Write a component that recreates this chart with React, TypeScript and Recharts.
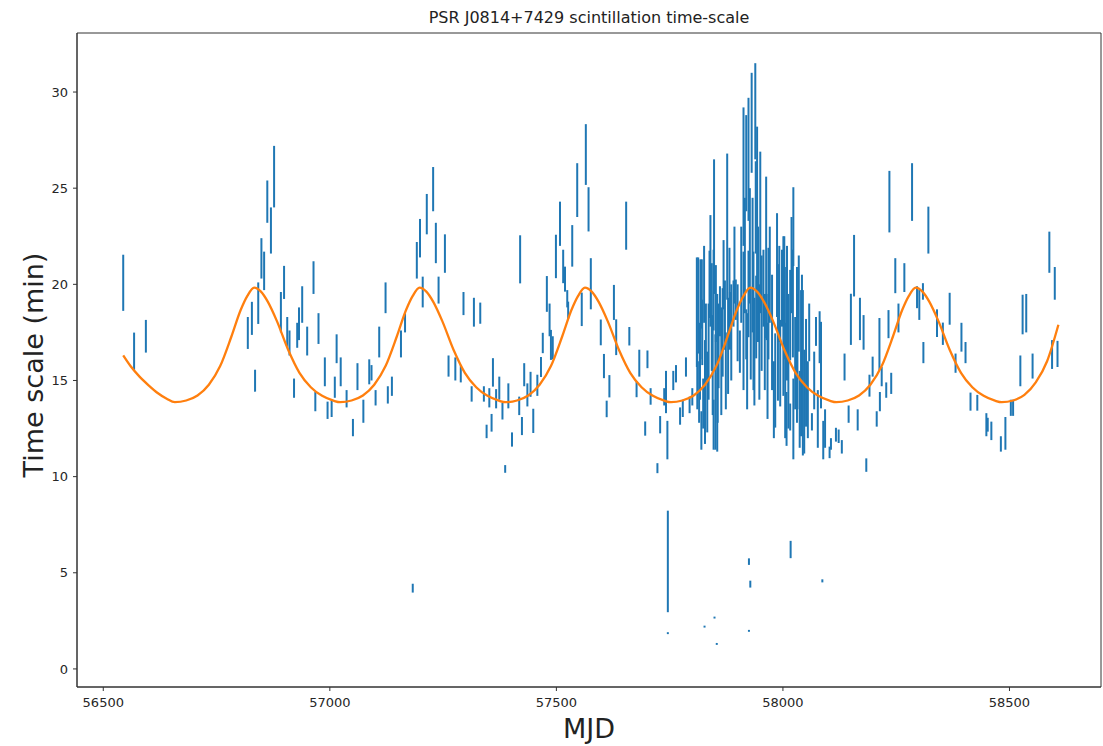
import React from 'react';
import { ComposedChart, Scatter, Line, XAxis, YAxis, ErrorBar, ReferenceArea } from 'recharts';

// [MJD, time scale (min), error (min)]
const obs2013: [number, number, number][] = [
  [56544, 20.08, 1.46], [56568, 16.52, 0.97], [56594, 17.3, 0.85],
  [56819, 17.47, 0.83], [56828, 18.23, 0.86], [56835, 14.99, 0.57], [56842, 19.02, 1.08],
  [56849, 21.35, 1.05], [56855, 20.7, 1.0], [56862, 24.3, 1.1], [56870, 22.8, 1.2],
  [56877, 25.6, 1.6], [56892, 18.55, 1.05], [56899, 20.1, 0.86], [56906, 17.53, 0.77],
  [56911, 16.95, 0.65], [56921, 14.6, 0.5], [56928, 17.35, 0.65], [56932, 17.95, 0.85],
  [56939, 18.95, 0.95], [56950, 17.05, 0.75],
];
const obs2014: [number, number, number][] = [
  [56964, 20.35, 0.85], [56968, 13.9, 0.5], [56975, 17.7, 0.8], [56989, 15.45, 0.75],
  [56995, 13.45, 0.45], [57004, 13.55, 0.45], [57011, 14.65, 0.55], [57015, 16.65, 0.75],
  [57024, 15.45, 0.75], [57037, 14.05, 0.45], [57051, 12.55, 0.45], [57061, 15.2, 0.7],
  [57074, 13.4, 0.6], [57087, 15.45, 0.65], [57092, 15.4, 0.4], [57101, 14.1, 0.4],
  [57109, 17.0, 0.8], [57123, 19.3, 0.8], [57128, 14.25, 0.45], [57137, 14.7, 0.5],
  [57157, 16.9, 0.7], [57166, 18.0, 0.5], [57183, 4.2, 0.23], [57192, 21.25, 0.95],
  [57199, 22.4, 1.0], [57205, 19.6, 0.8], [57214, 23.65, 1.05], [57228, 24.95, 1.15],
  [57234, 22.15, 1.05], [57240, 19.7, 0.7], [57254, 21.6, 1.0], [57262, 15.75, 0.55],
  [57277, 15.6, 0.6], [57289, 15.35, 0.45], [57295, 19.0, 0.6], [57313, 14.3, 0.4],
  [57318, 18.55, 0.75], [57332, 18.5, 0.55],
];
const obs2015: [number, number, number][] = [
  [57340, 14.3, 0.4], [57346, 12.35, 0.35], [57352, 14.1, 0.5], [57357, 12.8, 0.46],
  [57360, 15.42, 0.74], [57367, 14.05, 0.5], [57374, 14.6, 0.6], [57381, 13.4, 0.43],
  [57387, 10.4, 0.2], [57394, 14.2, 0.65], [57402, 11.93, 0.37], [57418, 13.68, 0.48],
  [57420, 21.3, 1.25], [57424, 12.63, 0.47], [57429, 15.3, 0.6], [57436, 14.25, 0.6],
  [57443, 14.8, 0.65], [57449, 12.9, 0.63], [57458, 14.75, 0.55], [57466, 15.7, 0.52],
  [57470, 16.95, 0.53], [57479, 19.5, 0.93], [57485, 18.15, 0.85], [57488, 16.85, 0.78],
  [57492, 16.7, 0.6], [57499, 21.45, 1.13], [57508, 23.15, 1.15], [57515, 20.93, 0.87],
  [57519, 20.27, 0.65], [57524, 19.25, 0.45], [57526, 18.65, 0.45], [57535, 22.0, 1.08],
  [57546, 24.9, 1.4], [57556, 18.7, 0.87], [57565, 26.75, 1.58], [57571, 23.9, 1.15],
  [57576, 20.03, 1.33], [57598, 17.5, 0.67], [57605, 15.75, 0.63], [57611, 13.52, 0.43],
  [57617, 14.7, 0.58], [57627, 19.06, 0.91], [57632, 17.25, 0.93], [57654, 23.05, 1.25],
  [57661, 17.3, 0.48], [57677, 14.54, 0.41], [57683, 15.9, 0.7], [57696, 12.5, 0.37],
  [57701, 16.1, 0.46],
];
const obs2016: [number, number, number][] = [
  [57708, 14.17, 0.43], [57723, 10.44, 0.26], [57729, 12.7, 0.45], [57738, 14.15, 0.45],
  [57742, 14.4, 1.1], [57745, 11.9, 1.0], [57746, 5.59, 2.64], [57746, 1.86, 0.05],
  [57758, 15.0, 0.5], [57764, 15.35, 0.45], [57773, 13.15, 0.45], [57779, 13.55, 0.45],
  [57786, 15.7, 0.5], [57794, 13.73, 0.43], [57800, 14.15, 0.45], [57810, 18.55, 2.85],
  [57811, 15.0, 1.5], [57813, 18.9, 2.5], [57815, 14.4, 1.6], [57817, 16.0, 2.0],
  [57818, 18.7, 2.6], [57820, 12.4, 1.0], [57821, 19.5, 1.8], [57822, 17.5, 1.7],
  [57824, 13.8, 1.3], [57826, 20.0, 2.0], [57827, 2.2, 0.05], [57828, 14.4, 2.7],
  [57830, 17.0, 2.0], [57833, 14.4, 2.1], [57836, 16.5, 2.5], [57838, 20.0, 1.75],
  [57840, 20.7, 2.9], [57843, 18.3, 2.8], [57845, 15.8, 2.6], [57847, 19.7, 2.1],
  [57847, 12.7, 1.3], [57848, 23.0, 3.5], [57849, 2.67, 0.05], [57851, 14.4, 3.0],
  [57852, 19.0, 2.0], [57854, 1.3, 0.05], [57855, 15.4, 4.1], [57856, 14.1, 1.3],
  [57858, 16.8, 2.2], [57861, 18.6, 1.3], [57864, 16.0, 2.8], [57867, 17.5, 2.3],
  [57869, 20.5, 1.8], [57872, 18.4, 1.8], [57874, 15.5, 2.0], [57877, 23.0, 3.8],
  [57879, 16.8, 2.5], [57882, 19.7, 2.2], [57883, 18.1, 1.5], [57886, 17.5, 2.5],
  [57891, 19.0, 1.2], [57893, 21.0, 2.0], [57896, 19.2, 1.05], [57900, 18.0, 2.0],
  [57905, 16.5, 1.1], [57908, 20.5, 2.5],
];
const obs2017: [number, number, number][] = [
  [57913, 25.6, 3.6], [57913, 18.1, 3.6], [57916, 21.5, 3.0], [57919, 26.3, 2.5],
  [57919, 17.4, 1.3], [57921, 16.0, 2.5], [57924, 26.5, 3.2], [57924, 19.5, 2.25],
  [57925, 5.58, 0.17], [57925, 1.98, 0.05], [57927, 22.0, 3.0], [57928, 4.41, 0.18],
  [57929, 17.4, 2.35], [57931, 28.4, 2.6], [57933, 21.0, 3.5], [57935, 18.1, 3.6],
  [57937, 16.5, 2.8], [57939, 29.0, 2.5], [57940, 24.0, 2.4], [57941, 18.3, 2.15],
  [57943, 23.9, 4.3], [57945, 20.0, 3.0], [57948, 17.0, 3.0], [57950, 22.7, 4.2],
  [57953, 18.5, 3.0], [57957, 19.8, 2.0], [57960, 17.0, 2.5], [57963, 21.4, 4.2],
  [57964, 18.3, 1.2], [57966, 15.5, 2.5], [57968, 19.0, 2.9], [57971, 20.5, 2.5],
  [57976, 17.5, 3.0], [57980, 14.0, 2.0], [57983, 15.0, 2.45], [57987, 21.0, 2.7],
  [57989, 17.5, 3.55], [57992, 19.5, 2.5], [57994, 15.9, 2.25], [57998, 19.8, 2.0],
  [58001, 18.35, 4.15], [58003, 19.3, 3.2], [58005, 15.0, 3.0], [58007, 18.0, 2.9],
  [58008, 13.0, 1.4], [58009, 18.5, 3.5], [58012, 16.0, 3.5], [58016, 18.4, 2.35],
  [58016, 13.1, 0.7], [58017, 6.21, 0.45], [58019, 21.0, 2.5], [58022, 19.0, 2.8],
  [58023, 13.0, 2.1], [58023, 23.0, 2.05], [58027, 15.9, 2.4], [58031, 16.85, 4.05],
  [58032, 16.5, 3.0], [58035, 19.0, 2.5], [58037, 13.5, 2.0], [58040, 15.9, 3.8],
  [58042, 18.5, 2.0], [58044, 15.4, 4.3], [58047, 13.9, 2.7], [58051, 15.4, 2.8],
  [58055, 14.0, 2.0], [58058, 17.5, 1.5], [58064, 12.85, 0.45], [58069, 15.0, 1.5],
  [58073, 17.55, 0.75], [58077, 13.0, 1.5], [58081, 17.25, 1.35], [58084, 15.8, 2.25],
  [58087, 4.58, 0.08], [58089, 11.9, 1.0], [58093, 12.5, 1.0],
];
const obs2018: [number, number, number][] = [
  [58103, 11.26, 0.3], [58106, 11.7, 0.3], [58117, 12.18, 0.36], [58123, 12.1, 0.35],
  [58130, 11.55, 0.35], [58136, 15.7, 0.7], [58145, 13.25, 0.45], [58150, 18.18, 1.33],
  [58157, 20.97, 1.6], [58165, 12.95, 0.55], [58170, 18.2, 1.1], [58178, 17.5, 0.9],
  [58184, 10.6, 0.35], [58191, 14.73, 0.57], [58198, 15.72, 0.52], [58207, 13.0, 0.4],
  [58213, 16.9, 1.35], [58214, 13.9, 0.5], [58218, 15.2, 0.5], [58228, 14.5, 0.4],
  [58233, 17.93, 0.73], [58235, 24.3, 1.6], [58239, 14.85, 0.55], [58248, 20.45, 0.91],
  [58255, 18.25, 0.75], [58268, 20.35, 0.75], [58285, 24.8, 1.5], [58296, 19.33, 0.57],
  [58301, 18.93, 0.78], [58309, 19.63, 0.43], [58310, 16.45, 0.55], [58321, 22.82, 1.22],
  [58340, 17.98, 0.72], [58353, 17.43, 0.58], [58368, 18.73, 0.83], [58381, 15.9, 0.5],
  [58394, 17.25, 0.75], [58403, 16.45, 0.55], [58414, 13.9, 0.47], [58429, 13.84, 0.41],
  [58449, 12.7, 0.6], [58452, 12.7, 0.36], [58460, 12.38, 0.48],
];
const obs2019: [number, number, number][] = [
  [58481, 11.7, 0.4], [58491, 12.25, 0.85], [58503, 13.58, 0.42], [58508, 13.58, 0.42],
  [58524, 15.5, 0.8], [58529, 18.43, 1.03], [58537, 18.5, 1.0], [58551, 15.75, 0.65],
  [58588, 21.67, 1.07], [58594, 16.35, 0.75], [58600, 20.05, 0.85], [58606, 16.38, 0.68],
];

// fitted annual model: [MJD, time scale]
const fitCurve: [number, number][] = [
  [56544, 16.3], [56560, 15.75], [56580, 15.2], [56600, 14.75], [56620, 14.35], [56640, 14.05],
  [56658, 13.87], [56683, 13.96], [56708, 14.22], [56733, 14.78], [56758, 15.75], [56783, 17.3],
  [56803, 18.65], [56818, 19.4], [56833, 19.83], [56848, 19.62], [56863, 19.1], [56883, 18.1],
  [56908, 16.6], [56933, 15.4], [56958, 14.65], [56983, 14.2], [57008, 13.95], [57023, 13.87],
  [57048, 13.96], [57073, 14.22], [57098, 14.78], [57123, 15.75], [57148, 17.3], [57168, 18.65],
  [57183, 19.4], [57198, 19.83], [57213, 19.62], [57228, 19.1], [57248, 18.1], [57273, 16.6],
  [57298, 15.4], [57323, 14.65], [57348, 14.2], [57373, 13.95], [57388, 13.87], [57413, 13.96],
  [57438, 14.22], [57463, 14.78], [57488, 15.75], [57513, 17.3], [57533, 18.65], [57548, 19.4],
  [57563, 19.83], [57578, 19.62], [57593, 19.1], [57613, 18.1], [57638, 16.6], [57663, 15.4],
  [57688, 14.65], [57713, 14.2], [57738, 13.95], [57753, 13.87], [57778, 13.96], [57803, 14.22],
  [57828, 14.78], [57853, 15.75], [57878, 17.3], [57898, 18.65], [57913, 19.4], [57928, 19.83],
  [57943, 19.62], [57958, 19.1], [57978, 18.1], [58003, 16.6], [58028, 15.4], [58053, 14.65],
  [58078, 14.2], [58103, 13.95], [58118, 13.87], [58143, 13.96], [58168, 14.22], [58193, 14.78],
  [58218, 15.75], [58243, 17.3], [58263, 18.65], [58278, 19.4], [58293, 19.83], [58308, 19.62],
  [58323, 19.1], [58343, 18.1], [58368, 16.6], [58393, 15.4], [58418, 14.65], [58443, 14.2],
  [58468, 13.95], [58483, 13.87], [58508, 13.96], [58533, 14.25], [58558, 14.9], [58583, 16.0],
  [58608, 17.9],
];

const xTicks = [56500, 57000, 57500, 58000, 58500];
const yTicks = [0, 5, 10, 15, 20, 25, 30];
const X_DOMAIN: [number, number] = [56442, 58702];
const Y_DOMAIN: [number, number] = [-0.94, 33.07];

const observations = [...obs2013, ...obs2014, ...obs2015, ...obs2016, ...obs2017, ...obs2018, ...obs2019]
  .map(([x, y, e]) => ({ x, y, e }));
const fit = fitCurve.map(([x, y]) => ({ x, y }));

const NoPoint = () => <g />;

const FONT = '"DejaVu Sans", sans-serif';

export default function App() {
  return (
    <div style={{ position: 'absolute', left: 0, top: 0, width: 1103, height: 746, background: '#fff', fontFamily: FONT }}>
      <ComposedChart width={1103} height={746} margin={{ top: 33, right: 2, bottom: 0, left: 0 }}>
        <XAxis
          type="number"
          dataKey="x"
          domain={X_DOMAIN}
          ticks={xTicks}
          allowDataOverflow
          height={59}
          tickSize={4}
          tickMargin={7}
          tick={{ fontSize: 13, fill: '#262626', fontFamily: FONT }}
          stroke="#333"
        />
        <YAxis
          type="number"
          dataKey="y"
          domain={Y_DOMAIN}
          ticks={yTicks}
          allowDataOverflow
          width={77}
          tickSize={4}
          tickMargin={5}
          tick={{ fontSize: 13, fill: '#262626', fontFamily: FONT }}
          stroke="#333"
        />
        <ReferenceArea
          x1={X_DOMAIN[0]}
          x2={X_DOMAIN[1]}
          y1={Y_DOMAIN[0]}
          y2={Y_DOMAIN[1]}
          fill="none"
          fillOpacity={0}
          stroke="#333"
          strokeWidth={1}
          ifOverflow="visible"
        />
        <Scatter data={observations} dataKey="y" shape={NoPoint} isAnimationActive={false}>
          <ErrorBar dataKey="e" direction="y" width={0} stroke="#1f77b4" strokeWidth={2} isAnimationActive={false} />
        </Scatter>
        <Line
          data={fit}
          dataKey="y"
          type="monotone"
          dot={false}
          activeDot={false}
          stroke="#ff7f0e"
          strokeWidth={2.3}
          isAnimationActive={false}
        />
      </ComposedChart>
      <div style={{ position: 'absolute', left: 77, width: 1024, top: 9, textAlign: 'center', fontSize: 16, lineHeight: '18px', color: '#222' }}>
        PSR J0814+7429 scintillation time-scale
      </div>
      <div style={{ position: 'absolute', left: 77, width: 1024, top: 713, textAlign: 'center', fontSize: 27, lineHeight: '31px', color: '#222' }}>
        MJD
      </div>
      <div
        style={{
          position: 'absolute',
          left: 33,
          top: 365,
          transform: 'translate(-50%, -50%) rotate(-90deg)',
          whiteSpace: 'nowrap',
          fontSize: 27,
          lineHeight: '31px',
          color: '#222',
        }}
      >
        Time scale (min)
      </div>
    </div>
  );
}
